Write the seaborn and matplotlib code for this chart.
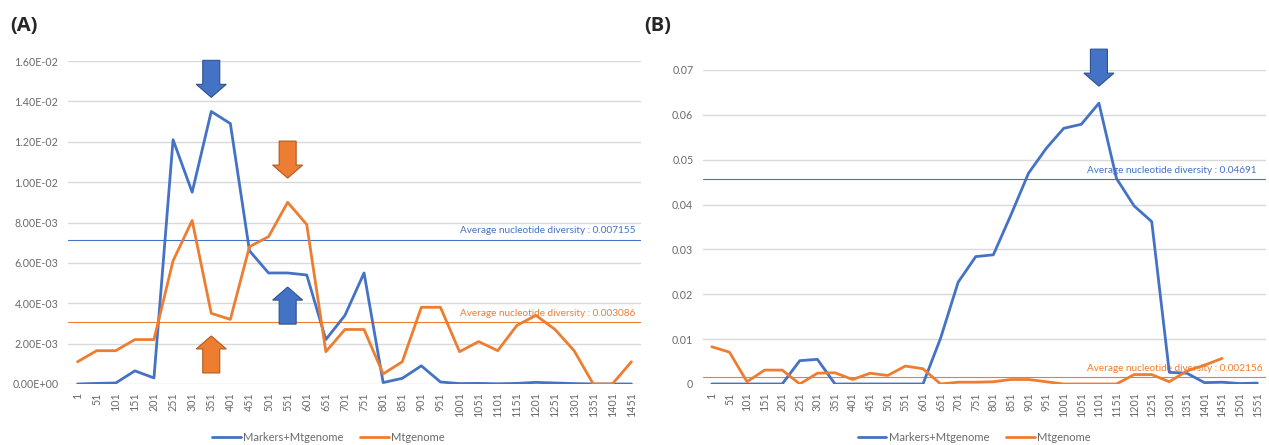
import numpy as np
import pandas as pd
import matplotlib
matplotlib.use('Agg')
import matplotlib.pyplot as plt
import matplotlib.patches as mpatches
import matplotlib.transforms as mtransforms
import seaborn as sns

# 窗口起点（A）
pos_a = ['1', '51', '101', '151', '201', '251', '301', '351', '401', '451',
         '501', '551', '601', '651', '701', '751', '801', '851', '901', '951',
         '1001', '1051', '1101', '1151', '1201', '1251', '1301', '1351', '1401', '1451']
blue_a = [0, 0.00003, 0.00005, 0.00065, 0.0003, 0.0121, 0.0095, 0.0135, 0.0129, 0.0066,
          0.0055, 0.0055, 0.0054, 0.0022, 0.0034, 0.0055, 0.00007, 0.00028, 0.0009, 0.0001,
          0.00002, 0.00003, 0.00001, 0.00003, 0.00008, 0.00005, 0.00002, 0, 0, 0]
orange_a = [0.0011, 0.00165, 0.00165, 0.0022, 0.0022, 0.0061, 0.0081, 0.0035, 0.0032, 0.0068,
            0.0073, 0.009, 0.0079, 0.0016, 0.0027, 0.0027, 0.0005, 0.0011, 0.0038, 0.0038,
            0.0016, 0.0021, 0.00165, 0.0029, 0.0034, 0.0027, 0.00165, 0, 0, 0.0011]
avg_a = [0.007155, 0.003086]

# 窗口起点（B）
pos_b = ['1', '51', '101', '151', '201', '251', '301', '351', '401', '451',
         '501', '551', '601', '651', '701', '751', '801', '851', '901', '951',
         '1001', '1051', '1101', '1151', '1201', '1251', '1301', '1351', '1401', '1451',
         '1501', '1551']
blue_b = [0, 0, 0, 0, 0, 0.0052, 0.0055, 0, 0, 0, 0, 0, 0,
          0.0102, 0.0227, 0.0284, 0.0288, 0.0377, 0.047, 0.0525, 0.057, 0.0579, 0.0626,
          0.0458, 0.0397, 0.0362, 0.0026, 0.0024, 0.0003, 0.0004, 0.0001, 0.0002]
orange_b = [0.0083, 0.0071, 0.0005, 0.0031, 0.0031, 0, 0.0024, 0.0025, 0.001, 0.0024,
            0.0019, 0.004, 0.0034, 0, 0.0004, 0.0004, 0.0005, 0.001, 0.001, 0.0005,
            0, 0, 0, 0, 0.0021, 0.0021, 0.0005, 0.0029, 0.0042, 0.0057]
avg_b = [0.04691, 0.002156]
avg_b_line = [0.0457, 0.0015]  # 图中平均线实际位置

series_names = ['Markers+Mtgenome', 'Mtgenome']
BLUE = '#4472C4'
ORANGE = '#ED7D31'
BLUE_EDGE = '#2F528F'
ORANGE_EDGE = '#AE5A21'
GRAY = '#6A6A6A'

sns.set_style('white')
plt.rcParams['font.family'] = ['Lato', 'DejaVu Sans']


def make_df(pos, blue, orange):
    d1 = pd.DataFrame({'pos': pos[:len(blue)], 'pi': blue, 'series': series_names[0]})
    d2 = pd.DataFrame({'pos': pos[:len(orange)], 'pi': orange, 'series': series_names[1]})
    return pd.concat([d1, d2], ignore_index=True)


def block_arrow(ax, x, y_tip, color, edge, up=False):
    # 箭头尺寸用英寸（dpi=100时 1英寸=100像素），定位在数据点上
    trans = fig.dpi_scale_trans + mtransforms.ScaledTranslation(x, y_tip, ax.transData)
    dy = 0.37 if up else -0.37
    arr = mpatches.FancyArrow(0, -dy, 0, dy, width=0.17, head_width=0.30, head_length=0.13,
                              length_includes_head=True, fc=color, ec=edge, lw=0.8,
                              transform=trans, clip_on=False, zorder=5)
    ax.add_patch(arr)


def style_axes(ax, ymax, yticks, fmt):
    ax.set_ylim(0, ymax)
    ax.set_yticks(yticks)
    ax.set_yticklabels([fmt(v) for v in yticks])
    ax.grid(axis='y', color='#D9D9D9', lw=1)
    ax.set_axisbelow(True)
    for s in ax.spines.values():
        s.set_visible(False)
    ax.tick_params(axis='both', length=0, colors=GRAY, labelsize=7.7)
    ax.tick_params(axis='y', pad=7)
    ax.tick_params(axis='x', pad=6, labelrotation=90)
    ax.set_xlabel('')
    ax.set_ylabel('')


fig = plt.figure(figsize=(12.69, 4.45), dpi=100)
ax_a = fig.add_axes([0.0536, 0.1371, 0.4515, 0.7258])
ax_b = fig.add_axes([0.554, 0.1371, 0.4437, 0.7056])

# (A)
df_a = make_df(pos_a, blue_a, orange_a)
sns.lineplot(data=df_a, x='pos', y='pi', hue='series', palette=[BLUE, ORANGE],
             sort=False, lw=2, ax=ax_a, legend=False, zorder=3)
ax_a.set_xlim(-0.5, len(pos_a) - 0.5)
style_axes(ax_a, 0.016, np.arange(0, 0.0161, 0.002), lambda v: '%.2E' % v)

# (B)
df_b = make_df(pos_b, blue_b, orange_b)
sns.lineplot(data=df_b, x='pos', y='pi', hue='series', palette=[BLUE, ORANGE],
             sort=False, lw=2, ax=ax_b, legend=False, zorder=3)
ax_b.set_xlim(-0.5, len(pos_b) - 0.5)
style_axes(ax_b, 0.07, np.arange(0, 0.0701, 0.01), lambda v: '0' if v == 0 else '%.2f' % v)

# 平均线和注释
for ax, lines, vals, tx in [(ax_a, avg_a, avg_a, 0.684), (ax_b, avg_b_line, avg_b, 0.682)]:
    for yv, val, c in zip(lines, vals, [BLUE, ORANGE]):
        ax.axhline(yv, color=c, lw=0.8, zorder=2)
        ax.annotate('Average nucleotide diversity : %s' % ('%g' % val if val < 0.01 else val),
                    xy=(tx, yv), xycoords=ax.get_yaxis_transform(),
                    xytext=(0, 3), textcoords='offset points',
                    ha='left', va='bottom', color=c, fontsize=7.2,
                    annotation_clip=False, zorder=1)

# 箭头
block_arrow(ax_a, 7, 0.0142, BLUE, BLUE_EDGE)
block_arrow(ax_a, 11, 0.0102, ORANGE, ORANGE_EDGE)
block_arrow(ax_a, 11, 0.0048, BLUE, BLUE_EDGE, up=True)
block_arrow(ax_a, 7, 0.00238, ORANGE, ORANGE_EDGE, up=True)
block_arrow(ax_b, 22, 0.0664, BLUE, BLUE_EDGE)

# 图例
handles = [plt.Line2D([], [], color=BLUE, lw=2), plt.Line2D([], [], color=ORANGE, lw=2)]
for ax, cx in [(ax_a, 0.259), (ax_b, 0.7675)]:
    leg = ax.legend(handles, series_names, loc='center', bbox_to_anchor=(cx, 0.016),
                    bbox_transform=fig.transFigure, ncol=2, frameon=False, fontsize=8,
                    handlelength=2.6, handletextpad=0.2, columnspacing=1.5)
    for t in leg.get_texts():
        t.set_color(GRAY)

fig.text(0.008, 0.93, '(A)', fontsize=14.5, fontweight='bold', family=['Open Sans', 'DejaVu Sans'])
fig.text(0.508, 0.93, '(B)', fontsize=14.5, fontweight='bold', family=['Open Sans', 'DejaVu Sans'])

fig.savefig('out.png', dpi=100)
